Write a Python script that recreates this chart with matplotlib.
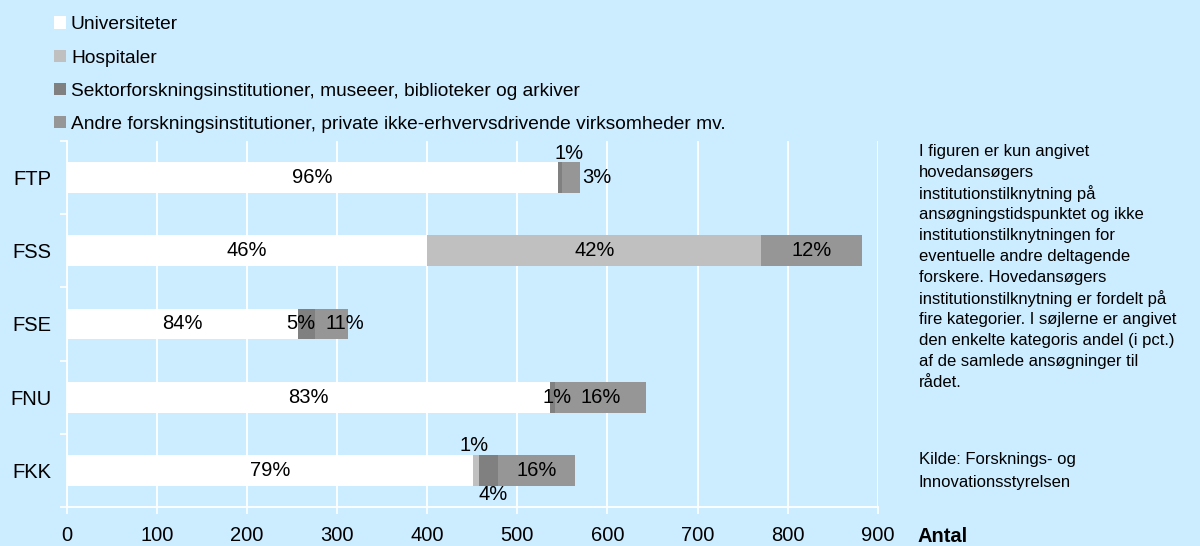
import matplotlib
matplotlib.use("Agg")
import matplotlib.pyplot as plt
import numpy as np

plt.rcParams["font.family"] = ["Liberation Sans", "DejaVu Sans"]

# ----------------------------------------------------------------------------
# Data (number of applications per council, split by institution type)
# ----------------------------------------------------------------------------
councils = ["FKK", "FNU", "FSE", "FSS", "FTP"]
series_names = [
    "Universiteter",
    "Hospitaler",
    "Sektorforskningsinstitutioner, museeer, biblioteker og arkiver",
    "Andre forskningsinstitutioner, private ikke-erhvervsdrivende virksomheder mv.",
]
universiteter = [451, 536, 257, 400, 545]
hospitaler = [6, 0, 0, 371, 0]
sektor = [21, 6, 18, 0, 5]
andre = [86, 101, 37, 112, 19]

# shares as printed in the bars
lbl_uni = ["79%", "83%", "84%", "46%", "96%"]
lbl_hosp = ["1%", "", "", "42%", ""]
lbl_sektor = ["4%", "1%", "5%", "", "1%"]
lbl_andre = ["16%", "16%", "11%", "12%", "3%"]

note_lines = [
    "I figuren er kun angivet",
    "hovedansøgers",
    "institutionstilknytning på",
    "ansøgningstidspunktet og ikke",
    "institutionstilknytningen for",
    "eventuelle andre deltagende",
    "forskere. Hovedansøgers",
    "institutionstilknytning er fordelt på",
    "fire kategorier. I søjlerne er angivet",
    "den enkelte kategoris andel (i pct.)",
    "af de samlede ansøgninger til",
    "rådet.",
]
source_lines = ["Kilde: Forsknings- og", "Innovationsstyrelsen"]

# ----------------------------------------------------------------------------
# Styling
# ----------------------------------------------------------------------------
BG = "#CCECFF"
COLORS = ["#FFFFFF", "#C0C0C0", "#808080", "#969696"]
# manual label nudges (pixels) for labels moved off the segment centre
NUDGE = {
    (0, 1): (-2, 25),
    (0, 2): (5, -24),
    (1, 2): (5, 0),
    (2, 2): (-6, 0),
    (2, 3): (14, 0),
    (4, 2): (9, 24),
    (4, 3): (26, 0),
}
W, H = 1200, 546
LINE_PX = 21.0

fig = plt.figure(figsize=(12, 5.46), dpi=100, facecolor=BG)
ax = fig.add_axes([0.0558, 0.0714, 0.6756, 0.6704])
ax.set_facecolor(BG)

y = np.arange(len(councils))
all_vals = [universiteter, hospitaler, sektor, andre]
all_lbls = [lbl_uni, lbl_hosp, lbl_sektor, lbl_andre]
left = np.zeros(len(councils))
for s, (vals, color, name) in enumerate(zip(all_vals, COLORS, series_names)):
    vals = np.asarray(vals, dtype=float)
    ax.barh(y, vals, left=left, height=0.42, color=color, label=name,
            edgecolor="none", zorder=3)
    for i, txt in enumerate(all_lbls[s]):
        if not txt:
            continue
        cx = left[i] + vals[i] / 2
        dx, dy = NUDGE.get((i, s), (0, 0))
        ax.annotate(txt, (cx, y[i]), xytext=(dx * 0.72, dy * 0.72),
                    textcoords="offset points", ha="center", va="center",
                    fontsize=14.5, color="black", zorder=5)
    left += vals

ax.set_xlim(0, 900)
ax.set_ylim(-0.5, len(councils) - 0.5)
ax.set_xticks(np.arange(0, 901, 100))
ax.set_yticks(y)
ax.set_yticklabels(councils)
ax.set_yticks(np.arange(-0.5, len(councils), 1), minor=True)
ax.tick_params(axis="x", colors="white", length=5, width=1.2, pad=9,
               labelcolor="black", labelsize=14.5)
ax.tick_params(axis="y", which="major", length=0, pad=11,
               labelcolor="black", labelsize=14.5)
ax.tick_params(axis="y", which="minor", colors="white", length=5, width=1.2)
ax.grid(axis="x", color="white", linewidth=1.3, zorder=1)
for side in ("top", "right"):
    ax.spines[side].set_visible(False)
for side in ("left", "bottom"):
    ax.spines[side].set_color("white")
    ax.spines[side].set_linewidth(1.3)

fig.legend(loc="upper left", bbox_to_anchor=(0.0383, 0.984), frameon=False,
           fontsize=13.8, handlelength=0.62, handleheight=0.62,
           handletextpad=0.28, labelspacing=0.84, borderaxespad=0)

# side note, one line at a time so the spacing stays even
for k, line in enumerate(note_lines):
    fig.text(919 / W, 1 - (150 + k * LINE_PX) / H, line, fontsize=12,
             va="center_baseline", ha="left")
for k, line in enumerate(source_lines):
    fig.text(919 / W, 1 - (458 + k * 23) / H, line, fontsize=12,
             va="center_baseline", ha="left")
fig.text(917 / W, 1 - 537 / H, "Antal", fontsize=14.5,
         fontweight="bold", va="center", ha="left")

fig.savefig("out.png", dpi=100, facecolor=BG)
